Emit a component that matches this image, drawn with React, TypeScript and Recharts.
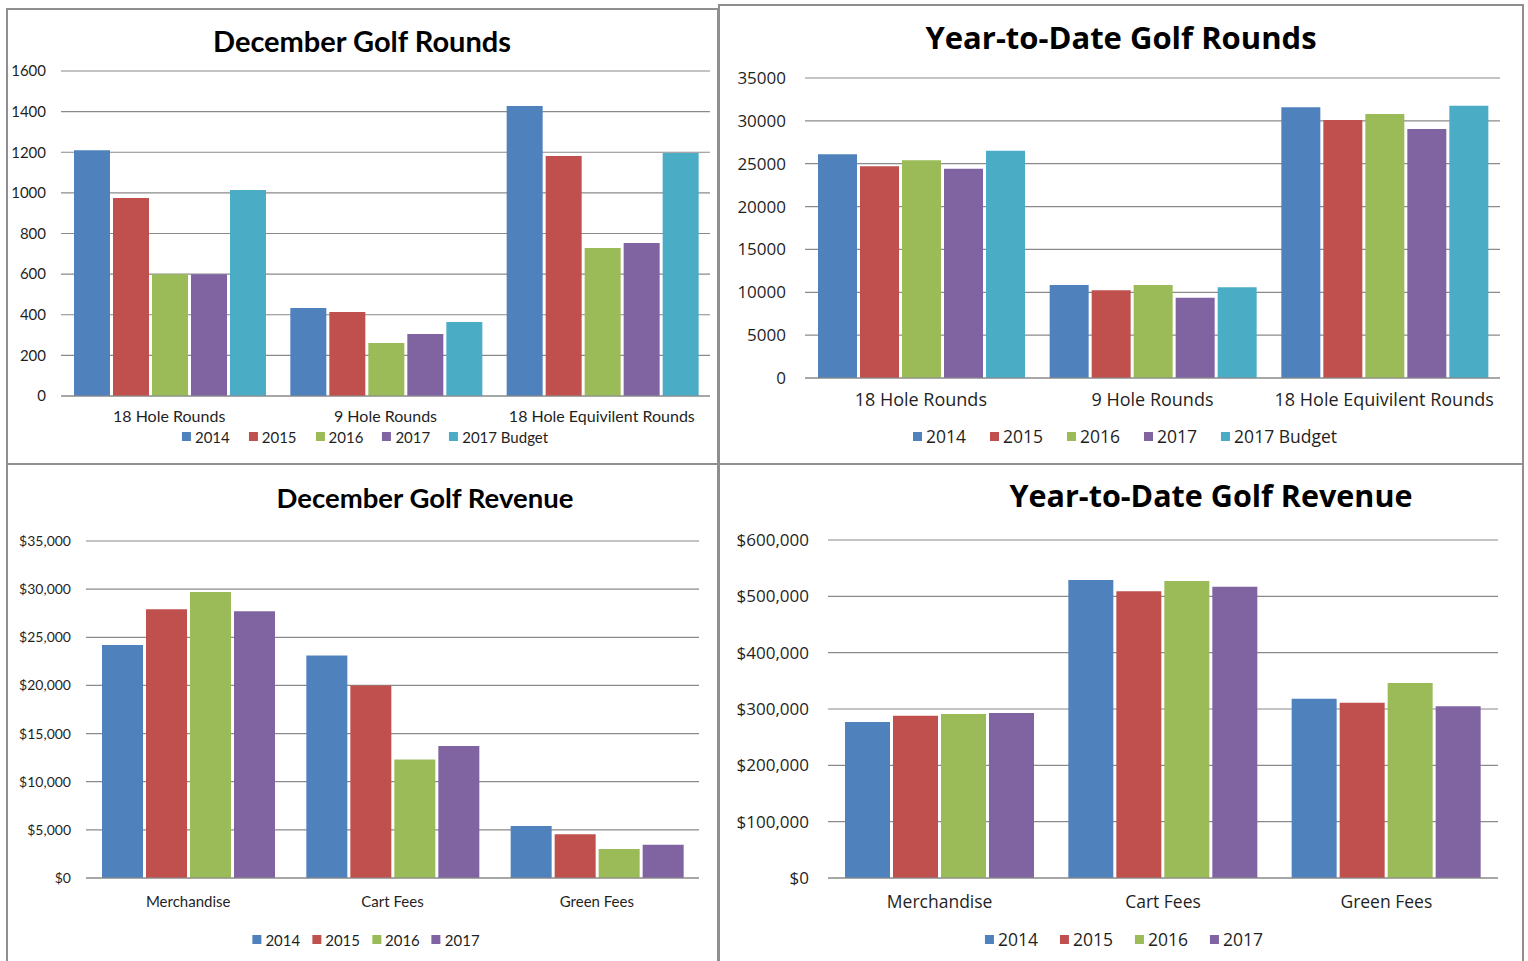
import React from "react";
import { BarChart, Bar, XAxis, YAxis, CartesianGrid } from "recharts";

// ---- data ----
const roundCategories = ["18 Hole Rounds", "9 Hole Rounds", "18 Hole Equivilent Rounds"];
const revenueCategories = ["Merchandise", "Cart Fees", "Green Fees"];

const roundSeriesNames = ["2014", "2015", "2016", "2017", "2017 Budget"];
const revenueSeriesNames = ["2014", "2015", "2016", "2017"];

const decRounds2014 = [1210, 433, 1428];
const decRounds2015 = [975, 414, 1182];
const decRounds2016 = [600, 261, 729];
const decRounds2017 = [600, 305, 753];
const decRoundsBudget = [1014, 364, 1196];
const decRoundsTicks = [0, 200, 400, 600, 800, 1000, 1200, 1400, 1600];

const ytdRounds2014 = [26100, 10850, 31600];
const ytdRounds2015 = [24700, 10250, 30100];
const ytdRounds2016 = [25400, 10850, 30800];
const ytdRounds2017 = [24400, 9350, 29050];
const ytdRoundsBudget = [26500, 10600, 31750];
const ytdRoundsTicks = [0, 5000, 10000, 15000, 20000, 25000, 30000, 35000];

const decRevenue2014 = [24200, 23100, 5400];
const decRevenue2015 = [27900, 20000, 4550];
const decRevenue2016 = [29700, 12300, 3000];
const decRevenue2017 = [27700, 13700, 3450];
const decRevenueTicks = [0, 5000, 10000, 15000, 20000, 25000, 30000, 35000];

const ytdRevenue2014 = [277000, 529000, 318000];
const ytdRevenue2015 = [288000, 509000, 311000];
const ytdRevenue2016 = [291000, 527000, 346000];
const ytdRevenue2017 = [293000, 517000, 305000];
const ytdRevenueTicks = [0, 100000, 200000, 300000, 400000, 500000, 600000];

const COLORS = ["#4F81BD", "#C0504D", "#9BBB59", "#8064A2", "#4BACC6"];
const GRID = "#8a8a8a";
const TEXT = "#1f1f1f";

const plain = (v: number) => String(v);
const dollars = (v: number) => "$" + v.toLocaleString("en-US");

function buildRows(categories: string[], names: string[], values: number[][]) {
  return categories.map((c, i) => {
    const row: Record<string, string | number> = { category: c };
    names.forEach((n, s) => {
      row["s" + s] = values[s][i];
    });
    return row;
  });
}

interface PanelProps {
  title: string;
  rows: Record<string, string | number>[];
  names: string[];
  ticks: number[];
  fmt: (v: number) => string;
  box: { left: number; top: number; width: number; height: number };
  plot: { x0: number; x1: number; y0: number; y1: number };
  labelRight: number;
  labelTop: number;
  font: string;
  titleFont: string;
  tickSize: number;
  catSize: number;
  legendSize: number;
  legendGap: number;
  titleSize: number;
  titleX: number;
  titleY: number;
  legendX: number;
  legendY: number;
  catGap: number;
}

function Panel(p: PanelProps) {
  const cLeft = p.box.left + 3;
  const cTop = p.plot.y0 - 12;
  const width = p.plot.x1 + 10 - cLeft;
  const xAxisH = 40;
  const height = p.plot.y1 - cTop + xAxisH;
  const yAxisW = p.plot.x0 - cLeft;

  return (
    <>
      <div
        style={{
          position: "absolute",
          left: p.box.left,
          top: p.box.top,
          width: p.box.width,
          height: p.box.height,
          border: "2px solid #8f8f8f",
          boxSizing: "border-box",
          background: "#fff",
        }}
      />
      <div
        style={{
          position: "absolute",
          left: p.titleX,
          top: p.titleY - p.titleSize * 0.62,
          transform: "translateX(-50%)",
          fontFamily: p.titleFont,
          fontWeight: 700,
          fontSize: p.titleSize,
          lineHeight: 1.2,
          color: "#000",
          whiteSpace: "nowrap",
        }}
      >
        {p.title}
      </div>
      <div style={{ position: "absolute", left: cLeft, top: cTop }}>
        <BarChart
          width={width}
          height={height}
          data={p.rows}
          margin={{ top: 12, right: 10, bottom: 0, left: 0 }}
          barCategoryGap={p.catGap}
          barGap={3}
        >
          <CartesianGrid vertical={false} stroke={GRID} strokeWidth={1.2} />
          <XAxis
            dataKey="category"
            height={xAxisH}
            tickLine={false}
            tickSize={0}
            tickMargin={p.labelTop - p.plot.y1}
            axisLine={{ stroke: GRID, strokeWidth: 1.2 }}
            tick={{ fontSize: p.catSize, fill: TEXT, fontFamily: p.font }}
            interval={0}
          />
          <YAxis
            width={yAxisW}
            domain={[p.ticks[0], p.ticks[p.ticks.length - 1]]}
            ticks={p.ticks}
            interval={0}
            tickFormatter={p.fmt}
            tickLine={false}
            tickSize={0}
            tickMargin={p.plot.x0 - p.labelRight}
            axisLine={false}
            tick={{ fontSize: p.tickSize, fill: TEXT, fontFamily: p.font }}
          />
          {p.names.map((n, i) => (
            <Bar key={n} dataKey={"s" + i} name={n} fill={COLORS[i]} isAnimationActive={false} />
          ))}
        </BarChart>
      </div>
      <div
        style={{
          position: "absolute",
          left: p.legendX,
          top: p.legendY - p.legendSize * 0.62,
          transform: "translateX(-50%)",
          display: "flex",
          alignItems: "center",
          gap: p.legendGap,
          fontFamily: p.font,
          fontSize: p.legendSize,
          lineHeight: 1.2,
          color: TEXT,
          whiteSpace: "nowrap",
        }}
      >
        {p.names.map((n, i) => (
          <div key={n} style={{ display: "flex", alignItems: "center" }}>
            <span style={{ width: 9, height: 9, background: COLORS[i], marginRight: 4, display: "inline-block" }} />
            {n}
          </div>
        ))}
      </div>
    </>
  );
}

export default function App() {
  const decRounds = buildRows(roundCategories, roundSeriesNames, [
    decRounds2014, decRounds2015, decRounds2016, decRounds2017, decRoundsBudget,
  ]);
  const ytdRounds = buildRows(roundCategories, roundSeriesNames, [
    ytdRounds2014, ytdRounds2015, ytdRounds2016, ytdRounds2017, ytdRoundsBudget,
  ]);
  const decRevenue = buildRows(revenueCategories, revenueSeriesNames, [
    decRevenue2014, decRevenue2015, decRevenue2016, decRevenue2017,
  ]);
  const ytdRevenue = buildRows(revenueCategories, revenueSeriesNames, [
    ytdRevenue2014, ytdRevenue2015, ytdRevenue2016, ytdRevenue2017,
  ]);

  return (
    <div
      style={{
        position: "fixed",
        left: 0,
        top: 0,
        width: 1528,
        height: 961,
        overflow: "hidden",
        background: "#fff",
      }}
    >
      <Panel
        title="December Golf Rounds"
        rows={decRounds}
        names={roundSeriesNames}
        ticks={decRoundsTicks}
        fmt={plain}
        box={{ left: 6, top: 8, width: 713, height: 457 }}
        plot={{ x0: 61, x1: 710, y0: 71, y1: 396 }}
        labelRight={46}
        labelTop={411}
        font="Lato, sans-serif"
        titleFont="Lato, sans-serif"
        tickSize={15}
        catSize={16}
        legendSize={15}
        legendGap={19}
        titleSize={29}
        titleX={362}
        titleY={42}
        legendX={365}
        legendY={437}
        catGap={13}
      />
      <Panel
        title="Year-to-Date Golf Rounds"
        rows={ytdRounds}
        names={roundSeriesNames}
        ticks={ytdRoundsTicks}
        fmt={plain}
        box={{ left: 718, top: 4, width: 806, height: 461 }}
        plot={{ x0: 805, x1: 1500, y0: 78, y1: 378 }}
        labelRight={786}
        labelTop={393}
        font="'Open Sans', sans-serif"
        titleFont="'Open Sans', sans-serif"
        tickSize={17}
        catSize={18}
        legendSize={17.5}
        legendGap={24}
        titleSize={31}
        titleX={1121}
        titleY={38}
        legendX={1125}
        legendY={437}
        catGap={13}
      />
      <Panel
        title="December Golf Revenue"
        rows={decRevenue}
        names={revenueSeriesNames}
        ticks={decRevenueTicks}
        fmt={dollars}
        box={{ left: 6, top: 463, width: 713, height: 520 }}
        plot={{ x0: 86, x1: 699, y0: 541, y1: 878 }}
        labelRight={71}
        labelTop={896}
        font="Lato, sans-serif"
        titleFont="Lato, sans-serif"
        tickSize={14}
        catSize={15}
        legendSize={15}
        legendGap={12}
        titleSize={27.5}
        titleX={425}
        titleY={498}
        legendX={366}
        legendY={940}
        catGap={16}
      />
      <Panel
        title="Year-to-Date Golf Revenue"
        rows={ytdRevenue}
        names={revenueSeriesNames}
        ticks={ytdRevenueTicks}
        fmt={dollars}
        box={{ left: 718, top: 463, width: 806, height: 520 }}
        plot={{ x0: 828, x1: 1498, y0: 540, y1: 878 }}
        labelRight={809}
        labelTop={896}
        font="'Open Sans', sans-serif"
        titleFont="'Open Sans', sans-serif"
        tickSize={17}
        catSize={17.5}
        legendSize={17.5}
        legendGap={22}
        titleSize={30.5}
        titleX={1211}
        titleY={496}
        legendX={1124}
        legendY={940}
        catGap={17}
      />
    </div>
  );
}
